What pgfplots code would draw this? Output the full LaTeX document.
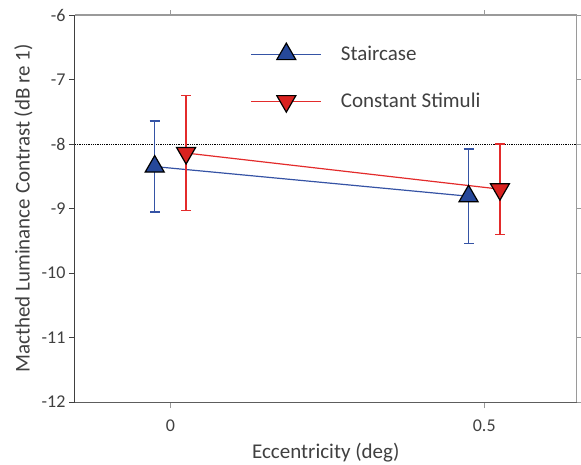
\documentclass[border=0pt]{standalone}
\usepackage{pgfplots}
\pgfplotsset{compat=1.18}
\usepackage{fontspec}
\setmainfont{Carlito}
\definecolor{txt}{HTML}{404040}
\definecolor{bl}{HTML}{26489A}
\definecolor{bline}{HTML}{3553A5}
\definecolor{rd}{HTML}{D92220}
\definecolor{rline}{HTML}{E32B2B}
\definecolor{axgray}{HTML}{9A9A9A}
\begin{document}
\begin{tikzpicture}
\useasboundingbox (-75pt,-62pt) rectangle (506pt,402pt);
\begin{axis}[name=back, at={(0pt,0pt)}, anchor=south west, width=501.5pt, height=387pt, scale only axis,
  xmin=-0.152, xmax=0.647, ymin=-12, ymax=-6,
  axis x line*=top, axis y line*=right,
  xtick={0,0.5}, ytick={-12,-11,-10,-9,-8,-7,-6},
  xticklabels={}, yticklabels={},
  tick align=outside, major tick length=5pt,
  axis line style={-, color=axgray, line width=1.2pt},
  tick style={axgray, line width=0.8pt}]
\addplot[draw=none, forget plot] coordinates {(0,-9)};
\end{axis}
\begin{axis}[at={(0pt,0pt)}, anchor=south west, width=501.5pt, height=387pt, scale only axis,
  xmin=-0.152, xmax=0.647, ymin=-12, ymax=-6,
  axis x line*=bottom, axis y line*=left,
  xtick={0,0.5}, xticklabels={0,0.5},
  ytick={-12,-11,-10,-9,-8,-7,-6}, yticklabels={-12,-11,-10,-9,-8,-7,-6},
  tick align=outside, major tick length=6pt,
  x axis line style={-, color=txt!85, line width=1pt},
  y axis line style={-, color=txt, line width=1pt},
  xtick style={axgray, line width=0.8pt},
  ytick style={txt, line width=0.8pt},
  ticklabel style={font=\fontsize{18}{20}\selectfont, text=txt},
  xticklabel style={yshift=-8pt},
  xlabel={Eccentricity (deg)}, ylabel={Macthed Luminance Contrast (dB re 1)},
  label style={font=\fontsize{21}{24}\selectfont, text=txt},
  xlabel style={at={(axis description cs:0.5,-0.132)}, anchor=center},
  ylabel style={at={(axis description cs:-0.103,0.5)}, anchor=center},
  legend style={draw=none, fill=none, at={(axis description cs:0.344,0.933)}, anchor=north west,
    font=\fontsize{21}{24}\selectfont, row sep=27pt,
    nodes={inner xsep=0pt}},
  legend cell align=left,
  legend image code/.code={\draw[mark repeat=2,mark phase=2,#1] plot coordinates {(0pt,0pt) (35pt,0pt) (70pt,0pt)};},
  clip=false]
\addplot[black, densely dotted, line width=0.8pt, forget plot] coordinates {(-0.152,-8) (0.647,-8)};
\addplot[color=bline, line width=1.2pt, mark=triangle*, mark size=11pt,
  mark options={fill=bl, draw=black, line width=1.2pt},
  error bars/.cd, y dir=both, y explicit,
  error bar style={line width=1.5pt, color=bline},
  error mark options={rotate=90, mark size=5pt, color=bline, line width=1.5pt}]
  coordinates {(-0.025,-8.35) +- (0,0.705) (0.475,-8.81) +- (0,0.735)};
\addlegendentry{\hspace{19pt}\textcolor{txt}{Staircase}}
\addplot[color=rline, line width=1.2pt, mark=triangle*, mark size=11pt,
  mark options={fill=rd, draw=black, line width=1.2pt, rotate=180},
  error bars/.cd, y dir=both, y explicit,
  error bar style={line width=1.5pt, color=rline},
  error mark options={rotate=90, mark size=5pt, color=rline, line width=1.5pt}]
  coordinates {(0.025,-8.14) +- (0,0.89) (0.525,-8.70) +- (0,0.70)};
\addlegendentry{\hspace{19pt}\textcolor{txt}{Constant Stimuli}}
\end{axis}
\end{tikzpicture}
\end{document}
